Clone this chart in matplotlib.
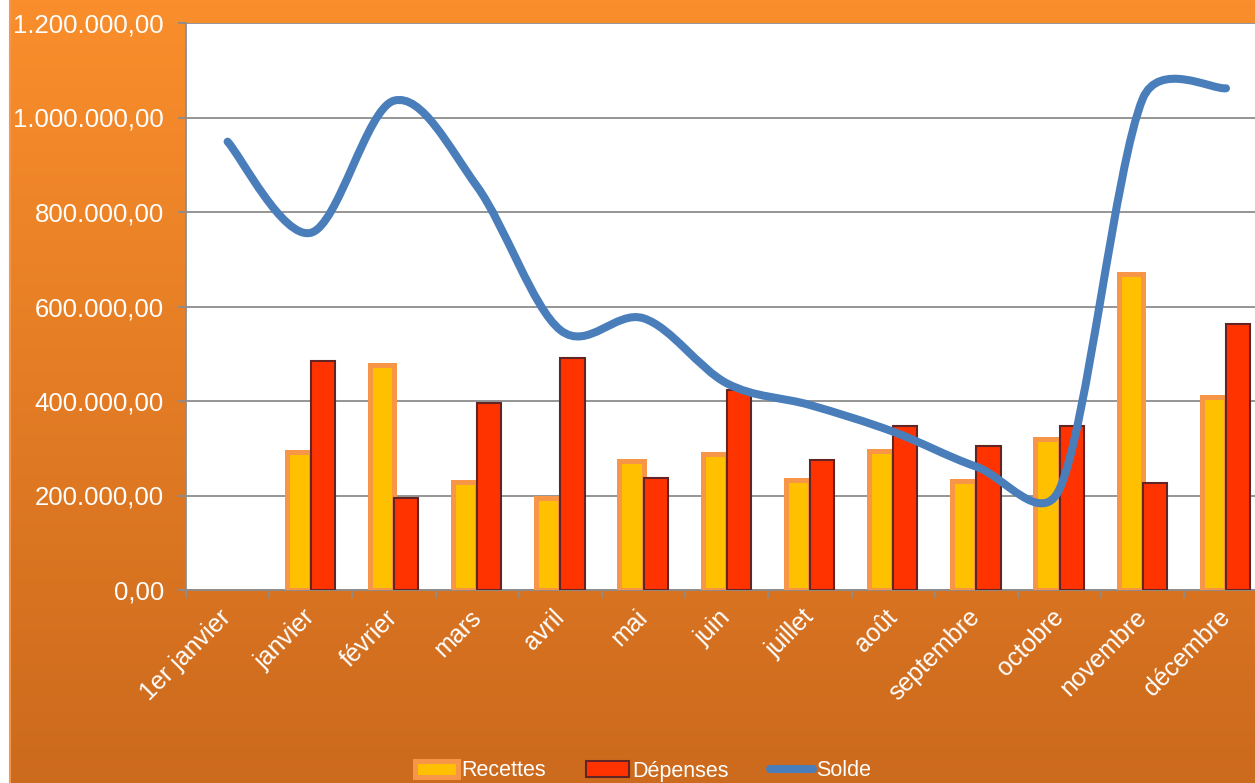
import numpy as np
import matplotlib
matplotlib.use("Agg")
import matplotlib.pyplot as plt
from matplotlib.path import Path
from matplotlib.patches import PathPatch, Rectangle, Patch
from matplotlib.lines import Line2D
from matplotlib.ticker import FuncFormatter

# donnees
mois = ["1er janvier", "janvier", "février", "mars", "avril", "mai", "juin",
        "juillet", "août", "septembre", "octobre", "novembre", "décembre"]
recettes = [None, 292700, 476000, 228000, 194000, 273000, 287000,
            232800, 295000, 231000, 319000, 669000, 408000]
depenses = [None, 484700, 194000, 396500, 490300, 237700, 423000,
            275000, 347700, 305000, 348000, 226000, 564000]
solde = [948800, 756000, 1035600, 853600, 550000, 575000, 437400,
         391500, 335000, 261000, 214000, 1040000, 1061800]

plt.rcParams['font.family'] = ['Liberation Sans', 'DejaVu Sans']

W, H = 1255, 783
fig = plt.figure(figsize=(W / 100, H / 100), dpi=100, facecolor='white')

# fond orange en degrade
bg = fig.add_axes([0, 0, 1, 1], zorder=-5)
grad = np.linspace(0, 1, 256).reshape(-1, 1)
top = np.array([250, 142, 44]) / 255
bot = np.array([204, 106, 29]) / 255
img = top + (bot - top) * grad[:, :, None]
bg.imshow(img, aspect='auto', extent=[10 / W, 1, 0, 1], origin='upper')
bg.add_patch(Rectangle((10 / W, -0.01), 1, 1.02, fill=False,
                       edgecolor='#F79646', lw=1.5))
bg.set_xlim(0, 1)
bg.set_ylim(0, 1)
bg.axis('off')

# zone de tracé (depasse a droite comme dans l'original)
x0, x1 = 186, 186 + 13 * 83.2
ax = fig.add_axes([x0 / W, 193 / H, (x1 - x0) / W, 567 / H])
ax.set_facecolor('white')
ax.set_xlim(-0.5, 12.5)
ax.set_ylim(0, 1200000)

x = np.arange(len(mois))
w = 0.29
idx = [i for i, v in enumerate(recettes) if v is not None]
ax.bar([i - 0.145 for i in idx], [recettes[i] for i in idx], width=w,
       color='#FFC000', edgecolor='#F79646', linewidth=3.6, zorder=3)
idx = [i for i, v in enumerate(depenses) if v is not None]
ax.bar([i + 0.145 for i in idx], [depenses[i] for i in idx], width=w,
       color='#FF3300', edgecolor='#632523', linewidth=1.5, zorder=4)

# courbe lissee facon Excel : bezier 1/6, bornee a la moitie du segment (en pixels)
pix = ax.transData.transform(np.column_stack([x, solde]))
n = len(pix)
verts = [pix[0]]
codes = [Path.MOVETO]
for i in range(n - 1):
    p0 = pix[max(i - 1, 0)]
    p1 = pix[i]
    p2 = pix[i + 1]
    p3 = pix[min(i + 2, n - 1)]
    d12 = np.hypot(*(p2 - p1))
    d02 = np.hypot(*(p2 - p0))
    d13 = np.hypot(*(p3 - p1))
    f = 1 / 6 if d02 / 6 < d12 / 2 else d12 / (2 * d02)
    g = 1 / 6 if d13 / 6 < d12 / 2 else d12 / (2 * d13)
    verts += [p1 + (p2 - p0) * f, p2 - (p3 - p1) * g, p2]
    codes += [Path.CURVE4] * 3
verts = ax.transData.inverted().transform(np.array(verts))
ax.add_patch(PathPatch(Path(verts, codes), fill=False, edgecolor='#4A7EBB',
                       lw=5.8, capstyle='round', joinstyle='round', zorder=5))

ax.set_yticks(np.arange(0, 1200001, 200000))
ax.yaxis.set_major_formatter(FuncFormatter(
    lambda v, p: f"{v:,.2f}".replace(',', ' ').replace('.', ',').replace(' ', '.')))
ax.grid(axis='y', color='#8C8C8C', lw=1.3, zorder=1)
ax.set_axisbelow(True)

ax.set_xticks(x)
ax.set_xticklabels(mois, rotation=45, ha='right', va='center',
                   rotation_mode='anchor')
ax.set_xticks(np.arange(-0.5, 13, 1), minor=True)
ax.tick_params(axis='x', which='major', length=0, pad=17, labelsize=18,
               labelcolor='white')
ax.tick_params(axis='x', which='minor', length=6, width=1.3, color='#8C8C8C',
               direction='out')
ax.tick_params(axis='y', length=6, width=1.3, color='#8C8C8C', pad=10,
               labelsize=18.5, labelcolor='white')

for s in ['top', 'right']:
    ax.spines[s].set_visible(False)
for s in ['left', 'bottom']:
    ax.spines[s].set_color('#8C8C8C')
    ax.spines[s].set_linewidth(1.3)

handles = [
    Patch(facecolor='#FFC000', edgecolor='#F79646', linewidth=3.6),
    Patch(facecolor='#FF3300', edgecolor='#632523', linewidth=1.5),
    Line2D([], [], color='#4A7EBB', lw=5.8, solid_capstyle='round'),
]
leg = fig.legend(handles, ['Recettes', 'Dépenses', 'Solde'], loc='center',
                 bbox_to_anchor=(643 / W, 1 - 771 / H), ncol=3, frameon=False,
                 fontsize=15.5, handlelength=2.0, handleheight=0.7,
                 handletextpad=0.15, columnspacing=1.9, labelcolor='white')

fig.savefig('out.png', dpi=100, facecolor=fig.get_facecolor())
